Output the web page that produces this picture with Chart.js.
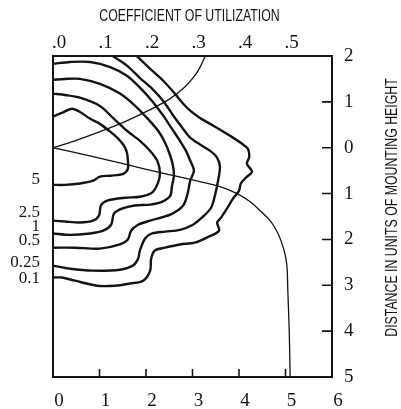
<!DOCTYPE html>
<html>
<head>
<meta charset="utf-8">
<script src="https://cdn.jsdelivr.net/npm/chart.js@4.4.1/dist/chart.umd.min.js"></script>
<style>
  html, body { margin: 0; padding: 0; background: #fff; }
  canvas { display: block; }
</style>
</head>
<body>
<canvas id="isolux-chart" width="401" height="409"></canvas>
<script>
// isolux contours, x = distance along street, y = distance across (+ house side, - street side)
const levelNames = ['5', '2.5', '1', '0.5', '0.25', '0.1'];
const levelLabelY = [-0.70, -1.42, -1.72, -2.03, -2.51, -2.85];

const c5X = [0, 0.19, 0.41, 0.58, 0.80, 1.01, 1.23, 1.40, 1.53, 1.59, 1.61, 1.61, 1.51, 1.23, 1.01, 0.86, 0.58, 0.26, 0];
const c5Y = [0.68, 0.76, 0.85, 0.78, 0.63, 0.52, 0.35, 0.20, 0.04, -0.11, -0.28, -0.46, -0.57, -0.61, -0.63, -0.72, -0.78, -0.81, -0.81];

const c25X = [0, 0.26, 0.58, 1.01, 1.29, 1.59, 1.87, 2.09, 2.24, 2.30, 2.26, 2.13, 1.87, 1.55, 1.18, 1.03, 0.99, 0.86, 0.58, 0.26, 0];
const c25Y = [1.18, 1.15, 1.09, 0.91, 0.65, 0.37, 0.15, -0.07, -0.28, -0.54, -0.76, -0.98, -1.07, -1.09, -1.15, -1.26, -1.48, -1.59, -1.63, -1.61, -1.59];

const c1X = [0, 0.26, 0.58, 1.01, 1.44, 1.76, 2.04, 2.26, 2.41, 2.52, 2.58, 2.60, 2.56, 2.52, 2.34, 2.09, 1.76, 1.48, 1.31, 1.25, 1.08, 0.80, 0.37, 0];
const c1Y = [1.48, 1.50, 1.50, 1.39, 1.18, 0.92, 0.63, 0.37, 0.11, -0.17, -0.39, -0.61, -0.83, -1.05, -1.18, -1.24, -1.26, -1.33, -1.44, -1.68, -1.81, -1.87, -1.90, -1.87];

const c05X = [0, 0.37, 0.80, 1.23, 1.59, 1.87, 2.13, 2.37, 2.56, 2.73, 2.86, 2.95, 3.03, 2.95, 2.90, 2.80, 2.52, 2.09, 1.83, 1.68, 1.61, 1.44, 1.01, 0.47, 0];
const c05Y = [1.83, 1.87, 1.87, 1.76, 1.57, 1.31, 1.02, 0.70, 0.41, 0.15, -0.07, -0.28, -0.50, -0.72, -0.98, -1.26, -1.46, -1.59, -1.68, -1.81, -2.00, -2.11, -2.20, -2.18, -2.18];

const c025X = [1.25, 1.59, 1.87, 2.13, 2.37, 2.60, 2.80, 2.95, 3.16, 3.38, 3.53, 3.59, 3.55, 3.48, 3.40, 3.25, 3.01, 2.73, 2.41, 2.13, 1.98, 1.87, 1.83, 1.72, 1.44, 0.86, 0.37, 0];
const c025Y = [2.02, 1.79, 1.52, 1.29, 1.02, 0.68, 0.41, 0.22, 0.07, -0.07, -0.22, -0.41, -0.72, -1.05, -1.31, -1.48, -1.68, -1.79, -1.83, -1.87, -1.98, -2.24, -2.42, -2.57, -2.66, -2.68, -2.64, -2.57];

const c01X = [1.78, 2.09, 2.37, 2.62, 2.80, 2.95, 3.16, 3.38, 3.63, 3.87, 4.06, 4.19, 4.22, 4.17, 4.28, 4.15, 4.04, 4.00, 3.87, 3.74, 3.61, 3.53, 3.57, 3.31, 3.05, 2.73, 2.41, 2.19, 2.11, 2.09, 1.94, 1.66, 1.33, 0.95, 0.47, 0.19, 0];
const c01Y = [2.02, 1.72, 1.46, 1.18, 0.96, 0.81, 0.65, 0.52, 0.37, 0.22, 0.09, -0.02, -0.20, -0.35, -0.52, -0.65, -0.78, -0.94, -1.11, -1.33, -1.53, -1.63, -1.81, -1.96, -2.07, -2.11, -2.18, -2.24, -2.42, -2.68, -2.90, -2.96, -3.01, -3.01, -2.90, -2.83, -2.83];

// coefficient of utilization curves (top axis)
const cuHouse = [0, 0.047, 0.101, 0.155, 0.209, 0.252, 0.284, 0.305, 0.318, 0.329];
const cuHouseY = [0, 0.15, 0.35, 0.57, 0.83, 1.07, 1.33, 1.57, 1.79, 2.03];
const cuStreet = [0, 0.058, 0.123, 0.187, 0.252, 0.316, 0.359, 0.396, 0.424, 0.445, 0.467, 0.484, 0.497, 0.503, 0.505, 0.508, 0.510];
const cuStreetY = [0, -0.13, -0.28, -0.44, -0.59, -0.74, -0.85, -1.00, -1.18, -1.37, -1.59, -1.87, -2.24, -2.57, -3.12, -3.99, -5.0];

const xTicks = [0, 1, 2, 3, 4, 5, 6];

const INK = '#141414';
const SERIF = "'Liberation Serif', 'DejaVu Serif', serif";
const SANS = "'Liberation Sans', Arial, sans-serif";

const pts = (xs, ys) => xs.map((x, i) => ({ x, y: ys[i] }));

function contour(xs, ys) {
  return {
    data: pts(xs, ys),
    showLine: true,
    borderColor: INK,
    borderWidth: 2.4,
    pointRadius: 0,
    tension: 0.3,
    xAxisID: 'x',
    yAxisID: 'y',
  };
}

function cuLine(xs, ys) {
  return {
    data: pts(xs, ys),
    showLine: true,
    borderColor: INK,
    borderWidth: 1.3,
    pointRadius: 0,
    tension: 0.3,
    xAxisID: 'x2',
    yAxisID: 'y',
  };
}

// condensed caption text (no narrow face installed, so squeeze it)
function narrowText(ctx, text, x, y, angle) {
  ctx.save();
  ctx.translate(x, y);
  ctx.rotate(angle);
  ctx.scale(0.77, 1);
  ctx.font = '16px ' + SANS;
  ctx.textAlign = 'center';
  ctx.textBaseline = 'middle';
  ctx.fillText(text, 0, 0);
  ctx.restore();
}

// box, inward tick marks, contour labels and axis titles
const chartFrame = {
  id: 'chartFrame',
  afterDatasetsDraw(chart) {
    const { ctx, chartArea: a, scales } = chart;
    ctx.save();
    ctx.strokeStyle = INK;
    ctx.lineWidth = 2;
    ctx.strokeRect(a.left, a.top, a.right - a.left, a.bottom - a.top);

    ctx.lineWidth = 1.6;
    ctx.beginPath();
    scales.x.ticks.forEach((t) => {
      if (t.value <= 0 || t.value >= 6) return;
      const px = scales.x.getPixelForValue(t.value);
      ctx.moveTo(px, a.bottom);
      ctx.lineTo(px, a.bottom - 8);
    });
    scales.y.ticks.forEach((t) => {
      if (t.value <= -5 || t.value >= 2) return;
      const py = scales.y.getPixelForValue(t.value);
      ctx.moveTo(a.right, py);
      ctx.lineTo(a.right - 10, py);
    });
    ctx.stroke();

    ctx.fillStyle = INK;
    ctx.font = '17px ' + SERIF;
    ctx.textAlign = 'right';
    ctx.textBaseline = 'middle';
    levelNames.forEach((name, i) => {
      ctx.fillText(name, a.left - 13, scales.y.getPixelForValue(levelLabelY[i]));
    });

    narrowText(ctx, 'COEFFICIENT OF UTILIZATION', (a.left + a.right) / 2 - 3, 17, 0);
    narrowText(ctx, 'DISTANCE IN UNITS OF MOUNTING HEIGHT', scales.y.right - 8, (a.top + a.bottom) / 2 - 9, -Math.PI / 2);
    ctx.restore();
  },
};

const ctxIso = document.getElementById('isolux-chart').getContext('2d');

const isoluxChart = new Chart(ctxIso, {
  type: 'scatter',
  data: {
    datasets: [
      contour(c5X, c5Y),
      contour(c25X, c25Y),
      contour(c1X, c1Y),
      contour(c05X, c05Y),
      contour(c025X, c025Y),
      contour(c01X, c01Y),
      cuLine(cuHouse, cuHouseY),
      cuLine(cuStreet, cuStreetY),
    ],
  },
  options: {
    responsive: false,
    animation: false,
    layout: { padding: { left: 53, right: 0, top: 0, bottom: 0 } },
    plugins: {
      legend: { display: false },
      tooltip: { enabled: false },
    },
    scales: {
      x: {
        type: 'linear',
        position: 'bottom',
        min: 0,
        max: 6,
        afterBuildTicks: (s) => { s.ticks = xTicks.map((v) => ({ value: v })); },
        ticks: {
          padding: 5,
          labelOffset: 6,
          color: INK,
          font: { family: SERIF, size: 19 },
        },
        grid: { display: false },
        border: { display: false },
        afterFit: (s) => { s.height = 32; },
      },
      x2: {
        type: 'linear',
        axis: 'x',
        position: 'top',
        min: 0,
        max: 0.6,
        ticks: {
          stepSize: 0.1,
          padding: -6,
          labelOffset: 6,
          color: INK,
          font: { family: SERIF, size: 19 },
          callback: (v) => (Math.round(v * 10) >= 6 ? '' : '.' + Math.round(v * 10)),
        },
        grid: { display: false },
        border: { display: false },
        afterFit: (s) => { s.height = 56; },
      },
      y: {
        type: 'linear',
        position: 'right',
        min: -5,
        max: 2,
        ticks: {
          stepSize: 1,
          padding: 4,
          color: INK,
          font: { family: SERIF, size: 19 },
          callback: (v) => String(Math.abs(v)),
        },
        grid: { display: false },
        border: { display: false },
        afterFit: (s) => { s.width = 69; },
      },
    },
  },
  plugins: [chartFrame],
});
</script>
</body>
</html>
